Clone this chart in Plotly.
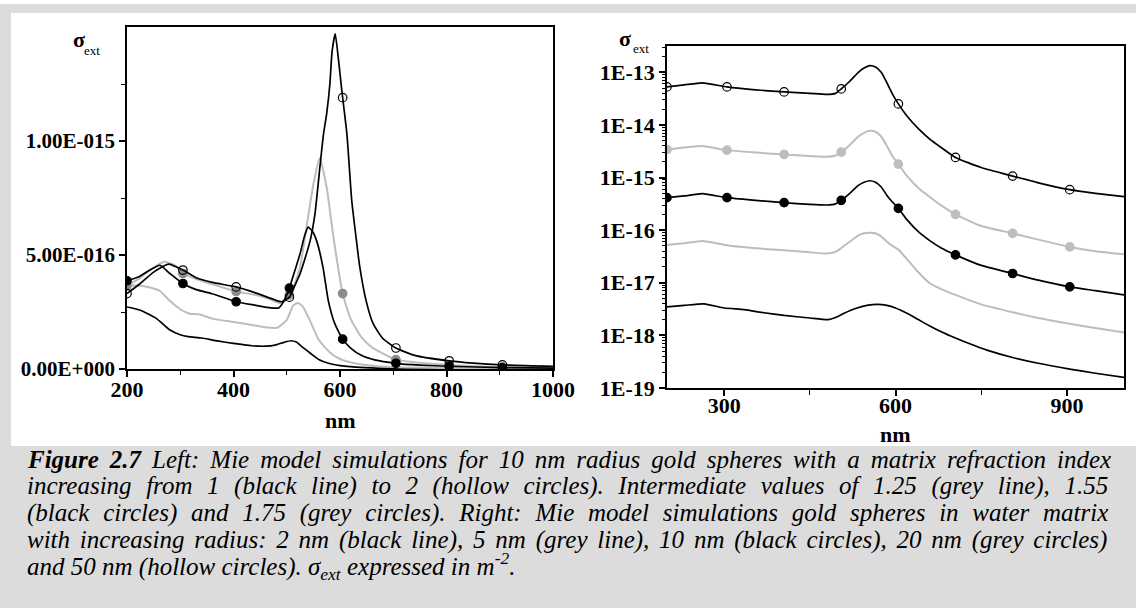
import numpy as np
import plotly.graph_objects as go

W, H = 1136, 608

# ---------------- Left panel: 10 nm radius Au spheres, matrix index n ----------------
UNIT = 1e-16  # left-panel values are listed in units of 1e-16

wl_n100 = [200, 225, 255, 280, 300, 315, 340, 370, 400, 435, 460, 480, 495, 508, 518, 530, 545,
           560, 580, 600, 630, 670, 720, 800, 900, 1000]
sig_n100 = [2.72, 2.58, 2.22, 1.72, 1.50, 1.42, 1.36, 1.23, 1.12, 1.02, 1.00, 1.06, 1.17, 1.24, 1.18,
            0.95, 0.68, 0.42, 0.24, 0.15, 0.08, 0.04, 0.02, 0.01, 0.005, 0.003]

wl_n125 = [200, 220, 245, 262, 280, 300, 318, 335, 360, 400, 437, 462, 482, 500, 512, 521, 530,
           545, 560, 580, 600, 630, 670, 720, 800, 900, 1000]
sig_n125 = [3.65, 3.66, 3.56, 3.42, 3.00, 2.62, 2.42, 2.40, 2.21, 2.06, 1.92, 1.82, 1.81, 2.15, 2.78,
            2.90, 2.75, 2.05, 1.28, 0.75, 0.44, 0.24, 0.12, 0.07, 0.04, 0.025, 0.02]

wl_n155 = [200, 220, 240, 262, 280, 305, 330, 360, 405, 440, 470, 485, 495, 505, 515, 525, 533,
           540, 548, 556, 568, 578, 590, 605, 620, 640, 665, 705, 750, 805, 905, 1000]
sig_n155 = [3.87, 4.02, 4.30, 4.55, 4.20, 3.75, 3.48, 3.30, 2.95, 2.80, 2.68, 2.68, 3.00, 3.55, 4.30,
            5.05, 5.80, 6.22, 6.05, 5.63, 4.47, 3.00, 2.00, 1.31, 0.92, 0.60, 0.40, 0.25, 0.17, 0.12,
            0.06, 0.04]

wl_n175 = [200, 225, 250, 270, 290, 305, 330, 360, 405, 440, 470, 485, 495, 505, 515, 525, 537,
           550, 562, 575, 587, 605, 620, 640, 660, 705, 750, 805, 905, 1000]
sig_n175 = [3.65, 4.00, 4.45, 4.70, 4.55, 4.19, 3.95, 3.72, 3.40, 3.25, 3.05, 2.90, 2.95, 3.25, 3.75,
            4.47, 6.20, 8.10, 9.27, 7.96, 5.90, 3.31, 2.20, 1.40, 0.95, 0.41, 0.27, 0.18, 0.08, 0.05]

wl_n200 = [200, 225, 250, 278, 305, 330, 360, 405, 440, 470, 490, 505, 515, 525, 535, 544, 553,
           562, 569, 575, 581, 585, 591, 597, 603, 605, 613, 622, 630, 637, 649, 662, 680, 705, 740,
           805, 850, 905, 1000]
sig_n200 = [3.31, 3.75, 4.25, 4.60, 4.34, 4.00, 3.80, 3.60, 3.35, 3.10, 2.95, 3.15, 3.65, 4.18, 4.90,
            5.63, 6.80, 8.80, 10.3, 11.2, 12.5, 13.9, 14.7, 13.6, 12.3, 11.9, 10.3, 7.40, 5.80, 4.50,
            3.00, 2.00, 1.35, 0.92, 0.60, 0.36, 0.26, 0.18, 0.12]

# ---------------- Right panel: Au spheres in water, radius r (log10 of sigma) ----------------
wl_r = [200, 230, 262, 305, 350, 405, 450, 480, 495, 505, 520, 535, 545, 555, 565, 575, 585, 595,
        605, 620, 640, 660, 680, 705, 750, 805, 850, 905, 950, 1000]
log_r50 = [-13.278, -13.24, -13.20, -13.278, -13.33, -13.373, -13.40, -13.42, -13.40, -13.316,
           -13.17, -13.00, -12.92, -12.874, -12.90, -13.00, -13.20, -13.42, -13.60, -13.83, -14.07,
           -14.27, -14.43, -14.618, -14.81, -14.972, -15.10, -15.231, -15.30, -15.364]
log_r20 = [-14.467, -14.43, -14.40, -14.479, -14.52, -14.561, -14.59, -14.606, -14.58, -14.517,
           -14.38, -14.22, -14.15, -14.112, -14.13, -14.22, -14.40, -14.60, -14.745, -14.97, -15.20,
           -15.37, -15.53, -15.70, -15.92, -16.06, -16.18, -16.319, -16.40, -16.458]
log_r10 = [-15.383, -15.35, -15.307, -15.383, -15.43, -15.478, -15.51, -15.522, -15.50, -15.434,
           -15.30, -15.15, -15.09, -15.061, -15.09, -15.18, -15.34, -15.47, -15.585, -15.80, -16.03,
           -16.20, -16.34, -16.47, -16.67, -16.824, -16.95, -17.077, -17.15, -17.229]
log_r5 = [-16.28, -16.25, -16.205, -16.287, -16.34, -16.382, -16.42, -16.445, -16.41, -16.34,
          -16.22, -16.10, -16.06, -16.047, -16.06, -16.12, -16.22, -16.30, -16.37, -16.55, -16.80,
          -17.01, -17.12, -17.23, -17.41, -17.56, -17.67, -17.78, -17.86, -17.943]
wl_r2 = [200, 230, 265, 300, 335, 370, 405, 450, 482, 495, 510, 530, 550, 569, 585, 600, 620, 640,
         660, 680, 705, 730, 760, 805, 850, 905, 950, 1000]
log_r2 = [-17.457, -17.43, -17.40, -17.48, -17.51, -17.57, -17.62, -17.67, -17.70, -17.66, -17.58,
          -17.49, -17.43, -17.41, -17.43, -17.48, -17.58, -17.70, -17.82, -17.93, -18.05, -18.16,
          -18.28, -18.42, -18.53, -18.64, -18.72, -18.797]

# wavelengths carrying a symbol on the symbol-marked curves
marker_wl = [200, 305, 405, 505, 605, 705, 805, 905]

BLACK = "#000000"
LGREY = "#bdbdbd"
MGREY = "#8c8c8c"
SERIF = "Liberation Serif"


def at_markers(wl, vals):
    wl = np.asarray(wl)
    vals = np.asarray(vals, dtype=float)
    sel = np.isin(wl, marker_wl)
    return wl[sel], vals[sel]


fig = go.Figure()


def add_curve(x, y, color, width, xa, ya, marker=None):
    fig.add_trace(go.Scatter(x=x, y=y, mode="lines", xaxis=xa, yaxis=ya,
                             line=dict(color=color, width=width, shape="spline", smoothing=0.5),
                             hoverinfo="skip", showlegend=False))
    if marker is not None:
        mx, my = at_markers(x, y)
        sym, mcol = marker
        fig.add_trace(go.Scatter(x=mx, y=my, mode="markers", xaxis=xa, yaxis=ya,
                                 marker=dict(symbol=sym, size=8.5, color=mcol,
                                             line=dict(color=mcol, width=1.2)),
                                 hoverinfo="skip", showlegend=False))


# left panel curves
add_curve(wl_n100, np.array(sig_n100) * UNIT, BLACK, 1.7, "x", "y")
add_curve(wl_n125, np.array(sig_n125) * UNIT, LGREY, 2.0, "x", "y")
add_curve(wl_n175, np.array(sig_n175) * UNIT, LGREY, 2.0, "x", "y", ("circle", MGREY))
add_curve(wl_n155, np.array(sig_n155) * UNIT, BLACK, 1.7, "x", "y", ("circle", BLACK))
add_curve(wl_n200, np.array(sig_n200) * UNIT, BLACK, 1.7, "x", "y", ("circle-open", BLACK))

# right panel curves
add_curve(wl_r2, 10 ** np.array(log_r2), BLACK, 1.7, "x2", "y2")
add_curve(wl_r, 10 ** np.array(log_r5), LGREY, 2.0, "x2", "y2")
add_curve(wl_r, 10 ** np.array(log_r10), BLACK, 1.7, "x2", "y2", ("circle", BLACK))
add_curve(wl_r, 10 ** np.array(log_r20), LGREY, 2.0, "x2", "y2", ("circle", LGREY))
add_curve(wl_r, 10 ** np.array(log_r50), BLACK, 1.7, "x2", "y2", ("circle-open", BLACK))


def px_x(px):
    return px / W


def px_y(py):
    return 1 - py / H


def axis_style(size):
    return dict(showgrid=False, zeroline=False, showline=True, linecolor=BLACK, linewidth=1.5,
                mirror=True, ticks="outside", tickcolor=BLACK, tickwidth=1.5, ticklen=6,
                automargin=False,
                tickfont=dict(family=SERIF, size=size, color=BLACK, weight="bold"))


# left panel axes
fig.update_layout(
    xaxis=dict(domain=[px_x(127), px_x(553)], range=[200, 1000], anchor="y",
               tickvals=[200, 400, 600, 800, 1000], ticktext=["200", "400", "600", "800", "1000"],
               minor=dict(tickvals=[300, 500, 700, 900], ticks="outside", ticklen=4,
                          tickcolor=BLACK, tickwidth=1.2),
               ticklabelstandoff=-6, **axis_style(22)),
    yaxis=dict(domain=[px_y(369), px_y(27)], range=[0, 1.5e-15], anchor="x",
               tickvals=[0, 5e-16, 1e-15], ticktext=["0.00E+000", "5.00E-016", "1.00E-015"],
               minor=dict(tickvals=[2.5e-16, 7.5e-16, 1.25e-15], ticks="outside", ticklen=4,
                          tickcolor=BLACK, tickwidth=1.2),
               **axis_style(21)),
)

# right panel axes
decades = list(range(-19, -12))
minor_log = [k * 10.0 ** e for e in range(-19, -12) for k in range(2, 10) if k * 10.0 ** e < 3.2e-13]
fig.update_layout(
    xaxis2=dict(domain=[px_x(667), px_x(1124)], range=[200, 1000], anchor="y2",
                tickvals=[300, 600, 900], ticktext=["300", "600", "900"],
                minor=dict(tickvals=[450, 750], ticks="outside", ticklen=5,
                           tickcolor=BLACK, tickwidth=1.2),
                ticklabelstandoff=-9, **axis_style(22)),
    yaxis2=dict(domain=[px_y(388), px_y(46)], type="log", range=[-19, -12.5], anchor="x2",
                tickvals=[10.0 ** d for d in decades], ticktext=[f"1E{d}" for d in decades],
                minor=dict(tickvals=minor_log, ticks="outside", ticklen=3,
                           tickcolor=BLACK, tickwidth=1),
                **axis_style(22)),
)

# background: grey page with white figure panel
shapes = [
    dict(type="rect", xref="paper", yref="paper", x0=px_x(11), x1=1, y0=px_y(446), y1=px_y(13),
         fillcolor="white", line=dict(width=0), layer="below"),
    dict(type="rect", xref="paper", yref="paper", x0=0, x1=1, y0=px_y(4), y1=1,
         fillcolor="white", line=dict(width=0), layer="below"),
]

annotations = []


def label(text, x, y, size, bold=False, xanchor="center", yanchor="middle", italic=False):
    annotations.append(dict(text=text, xref="paper", yref="paper", x=px_x(x), y=px_y(y),
                            xanchor=xanchor, yanchor=yanchor, showarrow=False,
                            font=dict(family=SERIF, size=size, color=BLACK,
                                      weight="bold" if bold else "normal",
                                      style="italic" if italic else "normal")))


# axis titles
label("σ", 79, 39, 22, bold=True)
label("ext", 92, 50, 13)
label("σ", 625, 38, 22, bold=True)
label("ext", 641, 49, 13)
label("nm", 340, 420, 22, bold=True)
label("nm", 896, 434, 22, bold=True)

# caption, justified between x=25 and x=1110
IT = {" ": 250, "a": 500, "b": 500, "c": 444, "d": 500, "e": 444, "f": 278, "g": 500, "h": 500,
      "i": 278, "j": 278, "k": 444, "l": 278, "m": 722, "n": 500, "o": 500, "p": 500, "q": 500,
      "r": 389, "s": 389, "t": 278, "u": 500, "v": 444, "w": 667, "x": 444, "y": 444, "z": 389,
      ".": 250, ",": 250, ":": 333, "(": 333, ")": 333, "F": 611, "L": 556, "M": 833, "I": 333,
      "R": 611}
BI = {"F": 667, "i": 278, "g": 500, "u": 556, "r": 389, "e": 444, " ": 250, ".": 250}


def em(s, table):
    return sum(table.get(c, 500) for c in s) / 1000.0


CAP_SIZE = 25
CAP_X0, CAP_X1 = 25, 1110
caption = [
    ("Figure 2.7", " Left: Mie model simulations for 10 nm radius gold spheres with a matrix refraction index"),
    ("", "increasing from 1 (black line) to 2 (hollow circles). Intermediate values of 1.25 (grey line), 1.55"),
    ("", "(black circles) and 1.75 (grey circles). Right: Mie model simulations gold spheres in water matrix"),
    ("", "with increasing radius: 2 nm (black line), 5 nm (grey line), 10 nm (black circles), 20 nm (grey circles)"),
]
baselines = [467, 494, 521, 547.5, 574]
for (bold_part, rest), base in zip(caption, baselines):
    natural = CAP_SIZE * (em(bold_part, BI) + em(rest, IT))
    n_sp = (bold_part + rest).count(" ")
    ws = max(0.0, (CAP_X1 - CAP_X0 - natural) / n_sp)
    head = f"<b>{bold_part}</b>" if bold_part else ""
    txt = f'<span style="word-spacing:{ws:.2f}px">{head}{rest}</span>'
    label(txt, CAP_X0, base - 8, CAP_SIZE, xanchor="left", italic=True)
label("and 50 nm (hollow circles). σ<sub>ext</sub> expressed in m<sup>-2</sup>.",
      CAP_X0, baselines[4] - 8, CAP_SIZE, xanchor="left", italic=True)

fig.update_layout(width=W, height=H, autosize=False,
                  margin=dict(l=0, r=0, t=0, b=0, pad=0, autoexpand=False),
                  paper_bgcolor="#dcdcdc", plot_bgcolor="white", shapes=shapes,
                  annotations=annotations, showlegend=False)

fig.write_html("out.html")
